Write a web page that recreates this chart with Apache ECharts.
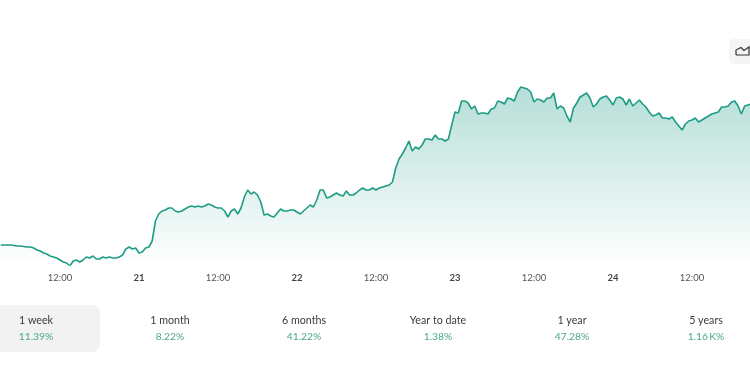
<!DOCTYPE html>
<html><head><meta charset="utf-8">
<style>html,body{margin:0;padding:0;background:#fff}#c{width:750px;height:375px}</style>
<script src="https://cdn.jsdelivr.net/npm/echarts@6/dist/echarts.min.js"></script>
</head><body><div id="c"></div>
<script>
const startHour = 3, stepHours = 0.5;
const tickLabels = ['20','12:00','21','12:00','22','12:00','23','12:00','24','12:00','25'];
const values = [
1237,1237,1237,1237,1236.5,1236,1236,1235.5,1235,1235,1234,1232,1231,1229,1228,1226,1225,1224,1222,1220,
1219,1216,1221,1222,1220,1222,1225,1224,1226,1223,1223,1225,1224,1225,1224,1224,1225,1227,1233,1235,
1233,1234,1229,1230,1234,1235,1241,1261,1268,1271,1272,1274,1274,1271,1270,1271,1273,1275,1276,1275,
1276,1275,1276,1278,1277,1275,1274,1274,1271,1265,1271,1273,1268,1274,1285,1292,1288,1290,1287,1280,
1267,1268,1266,1265,1269,1273,1271,1271,1272,1272,1270,1268,1271,1274,1277,1275,1282,1292,1292,1284,
1285,1287,1289,1287,1286,1291,1287,1287,1289,1292,1294,1292,1292,1294,1292,1294,1295,1296,1297,1300,
1314,1323,1328,1334,1341,1331,1335,1333,1337,1343,1343,1342,1347,1343,1343,1341,1343,1357,1370,1369,
1381,1381,1379,1373,1376,1368,1369,1369,1368,1373,1374,1381,1380,1378,1384,1383,1381,1390,1395,1394,
1393,1390,1380,1383,1382,1380,1384,1384,1389,1373,1376,1374,1366,1360,1374,1379,1385,1387,1389,1384,
1375,1378,1383,1385,1386,1382,1377,1384,1385,1383,1377,1383,1376,1379,1382,1378,1375,1370,1366,1367,
1369,1364,1364,1363,1365,1360,1356,1352,1358,1361,1362,1364,1360,1362,1364,1366,1368,1369,1370,1375,
1375,1376,1380,1381,1376,1368,1376,1377,1378
];
const tabNames = ['1 week','1 month','6 months','Year to date','1 year','5 years'];
const tabChanges = ['11.39%','8.22%','41.22%','1.38%','47.28%','1.16\u2009K%'];
const lineColor = '#1f9c85';
const font = 'Lato, "Noto Sans", sans-serif';

const chart = echarts.init(document.getElementById('c'), null, {renderer:'canvas'});
const tabGraphics = [];
tabGraphics.push({type:'rect',shape:{x:-12,y:305,width:112,height:47,r:8},style:{fill:'#f2f2f2'},z:1});
tabNames.forEach((n,i)=>{
  const cx = 36 + i*134;
  tabGraphics.push({type:'text',x:cx,y:320.5,z:2,style:{text:n,font:'10.7px '+font,fill:'#3a3a3a',align:'center',verticalAlign:'middle'}});
  tabGraphics.push({type:'text',x:cx,y:336.5,z:2,style:{text:tabChanges[i],font:'10.3px '+font,fill:'#4aa690',align:'center',verticalAlign:'middle'}});
});
tabGraphics.push({type:'rect',shape:{x:729,y:39,width:30,height:25,r:5},style:{fill:'#f5f5f5'},z:1});
tabGraphics.push({type:'polyline',shape:{points:[[736,55],[736,50],[741,47.5],[744,50.5],[749,47],[749,55],[736,55]]},style:{stroke:'#333',fill:'none',lineWidth:1.2},z:2});

chart.setOption({
  animation:false,
  backgroundColor:'#fff',
  grid:{left:-19,top:0,width:790,height:265,containLabel:false,outerBoundsMode:'none'},
  xAxis:{type:'value',min:0,max:120,interval:12,
    axisLine:{show:false},axisTick:{show:false},splitLine:{show:false},
    axisLabel:{show:true,margin:8,showMinLabel:true,showMaxLabel:true,hideOverlap:false,
      fontFamily:font,fontSize:9.5,color:'#555',
      formatter:(v)=>{const t=tickLabels[Math.round(v/12)];return t.indexOf(':')>=0?t:'{d|'+t+'}';},
      rich:{d:{fontFamily:font,fontSize:9.5,fontWeight:'bold',color:'#444'}}}},
  yAxis:{type:'value',min:1217,max:1482,show:false},
  series:[{type:'line',showSymbol:false,smooth:false,
    data:values.map((v,i)=>[startHour+i*stepHours,v]),
    lineStyle:{color:lineColor,width:1.6},
    itemStyle:{color:lineColor},
    areaStyle:{opacity:1,origin:'start',color:new echarts.graphic.LinearGradient(0,0,0,1,[
      {offset:0,color:'rgba(38,160,138,0.34)'},{offset:1,color:'rgba(38,160,138,0)'}])}
  }],
  graphic:tabGraphics
});
</script></body></html>
